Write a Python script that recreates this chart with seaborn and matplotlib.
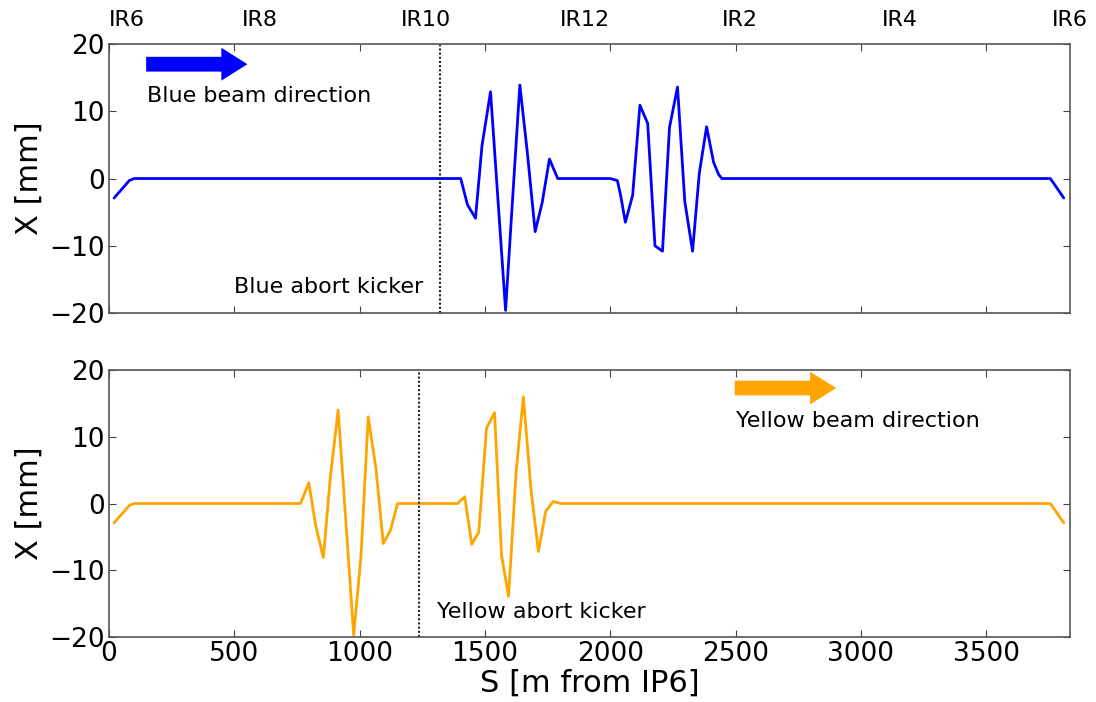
import matplotlib
matplotlib.use("Agg")
import matplotlib.pyplot as plt
import seaborn as sns
import pandas as pd

# ---- data ----
blue_s = [20, 81, 100, 1403, 1430, 1462, 1488, 1522, 1582, 1605, 1639, 1669, 1700, 1728, 1757, 1790,
          1999, 2028, 2041, 2060, 2089, 2118, 2149, 2178, 2208, 2236, 2268, 2297, 2328, 2355, 2384,
          2412, 2432, 2445, 3755, 3765, 3809]
blue_x = [-2.9, -0.3, 0.0, 0.0, -3.9, -5.9, 4.9, 12.9, -19.6, -6.0, 13.9, 3.8, -7.9, -3.6, 2.9, 0.0,
          0.0, -0.3, -2.5, -6.5, -2.5, 10.9, 8.2, -10.0, -10.8, 7.6, 13.6, -3.4, -10.8, 0.8, 7.7,
          2.4, 0.6, 0.0, 0.0, -0.5, -2.9]

yellow_s = [20, 81, 100, 764, 797, 825, 855, 883, 914, 976, 1005, 1034, 1065, 1094, 1123, 1151,
            1390, 1419, 1447, 1475, 1506, 1538, 1566, 1594, 1624, 1653, 1683, 1713, 1742, 1772,
            1802, 3755, 3765, 3809]
yellow_x = [-2.9, -0.3, 0.0, 0.0, 3.1, -3.4, -8.1, 4.0, 14.0, -19.7, -8.0, 13.0, 5.2, -6.0, -4.0, 0.0,
            0.0, 1.0, -6.1, -4.3, 11.3, 13.6, -7.8, -13.9, 4.7, 16.0, 2.2, -7.2, -1.2, 0.3,
            0.0, 0.0, -0.5, -2.9]

ir_labels = ["IR6", "IR8", "IR10", "IR12", "IR2", "IR4", "IR6"]
ir_pos = [72, 602, 1264, 1898, 2516, 3154, 3832]

blue_kicker = 1320
yellow_kicker = 1237
s_max = 3834

sns.set_style("white")
plt.rcParams["font.family"] = ["DejaVu Sans"]
plt.rcParams["text.color"] = "black"
plt.rcParams["axes.labelcolor"] = "black"

fig = plt.figure(figsize=(10.96, 7.02), dpi=100)
ax1 = fig.add_axes([0.0995, 0.5541, 0.8768, 0.3832])
ax2 = fig.add_axes([0.0995, 0.0926, 0.8768, 0.3803])

df_b = pd.DataFrame({"S": blue_s, "X": blue_x})
df_y = pd.DataFrame({"S": yellow_s, "X": yellow_x})

sns.lineplot(data=df_b, x="S", y="X", ax=ax1, color="#0000ff", lw=2, estimator=None, sort=False)
sns.lineplot(data=df_y, x="S", y="X", ax=ax2, color="orange", lw=2, estimator=None, sort=False)

for ax in (ax1, ax2):
    ax.set_xlim(0, s_max)
    ax.set_ylim(-20, 20)
    ax.set_yticks([-20, -10, 0, 10, 20])
    ax.set_xticks([0, 500, 1000, 1500, 2000, 2500, 3000, 3500])
    ax.tick_params(direction="in", top=True, right=True, bottom=True, left=True,
                   length=5, width=0.8, labelsize=19, color="#444444", labelcolor="black",
                   pad=3)
    for sp in ax.spines.values():
        sp.set_visible(True)
        sp.set_color("#555555")
        sp.set_linewidth(1.2)
    ax.set_ylabel("X [mm]", fontsize=22)
    ax.set_xlabel("")

ax1.tick_params(labelbottom=False)
ax2.set_xlabel("S [m from IP6]", fontsize=22, labelpad=1)

# kicker lines
ax1.axvline(blue_kicker, color="#222222", ls=(0, (1, 1)), lw=1.5)
ax2.axvline(yellow_kicker, color="#222222", ls=(0, (1, 1)), lw=1.5)
ax1.text(1252, -16.1, "Blue abort kicker", ha="right", va="center", fontsize=16)
ax2.text(1307, -16.2, "Yellow abort kicker", ha="left", va="center", fontsize=16)

# beam direction arrows
ax1.arrow(148, 17.0, 300, 0, width=2.2, head_width=4.9, head_length=104,
          length_includes_head=False, color="#0000ff", lw=0)
ax1.text(150, 12.3, "Blue beam direction", ha="left", va="center", fontsize=16)
ax2.arrow(2496, 17.3, 301, 0, width=2.2, head_width=4.9, head_length=104,
          length_includes_head=False, color="orange", lw=0)
ax2.text(2500, 12.3, "Yellow beam direction", ha="left", va="center", fontsize=16)

# IR labels above top panel
for lab, pos in zip(ir_labels, ir_pos):
    ax1.text(pos, 1.088, lab, transform=ax1.get_xaxis_transform(), ha="center", va="center",
             fontsize=16)

fig.savefig("out.png", dpi=100)
